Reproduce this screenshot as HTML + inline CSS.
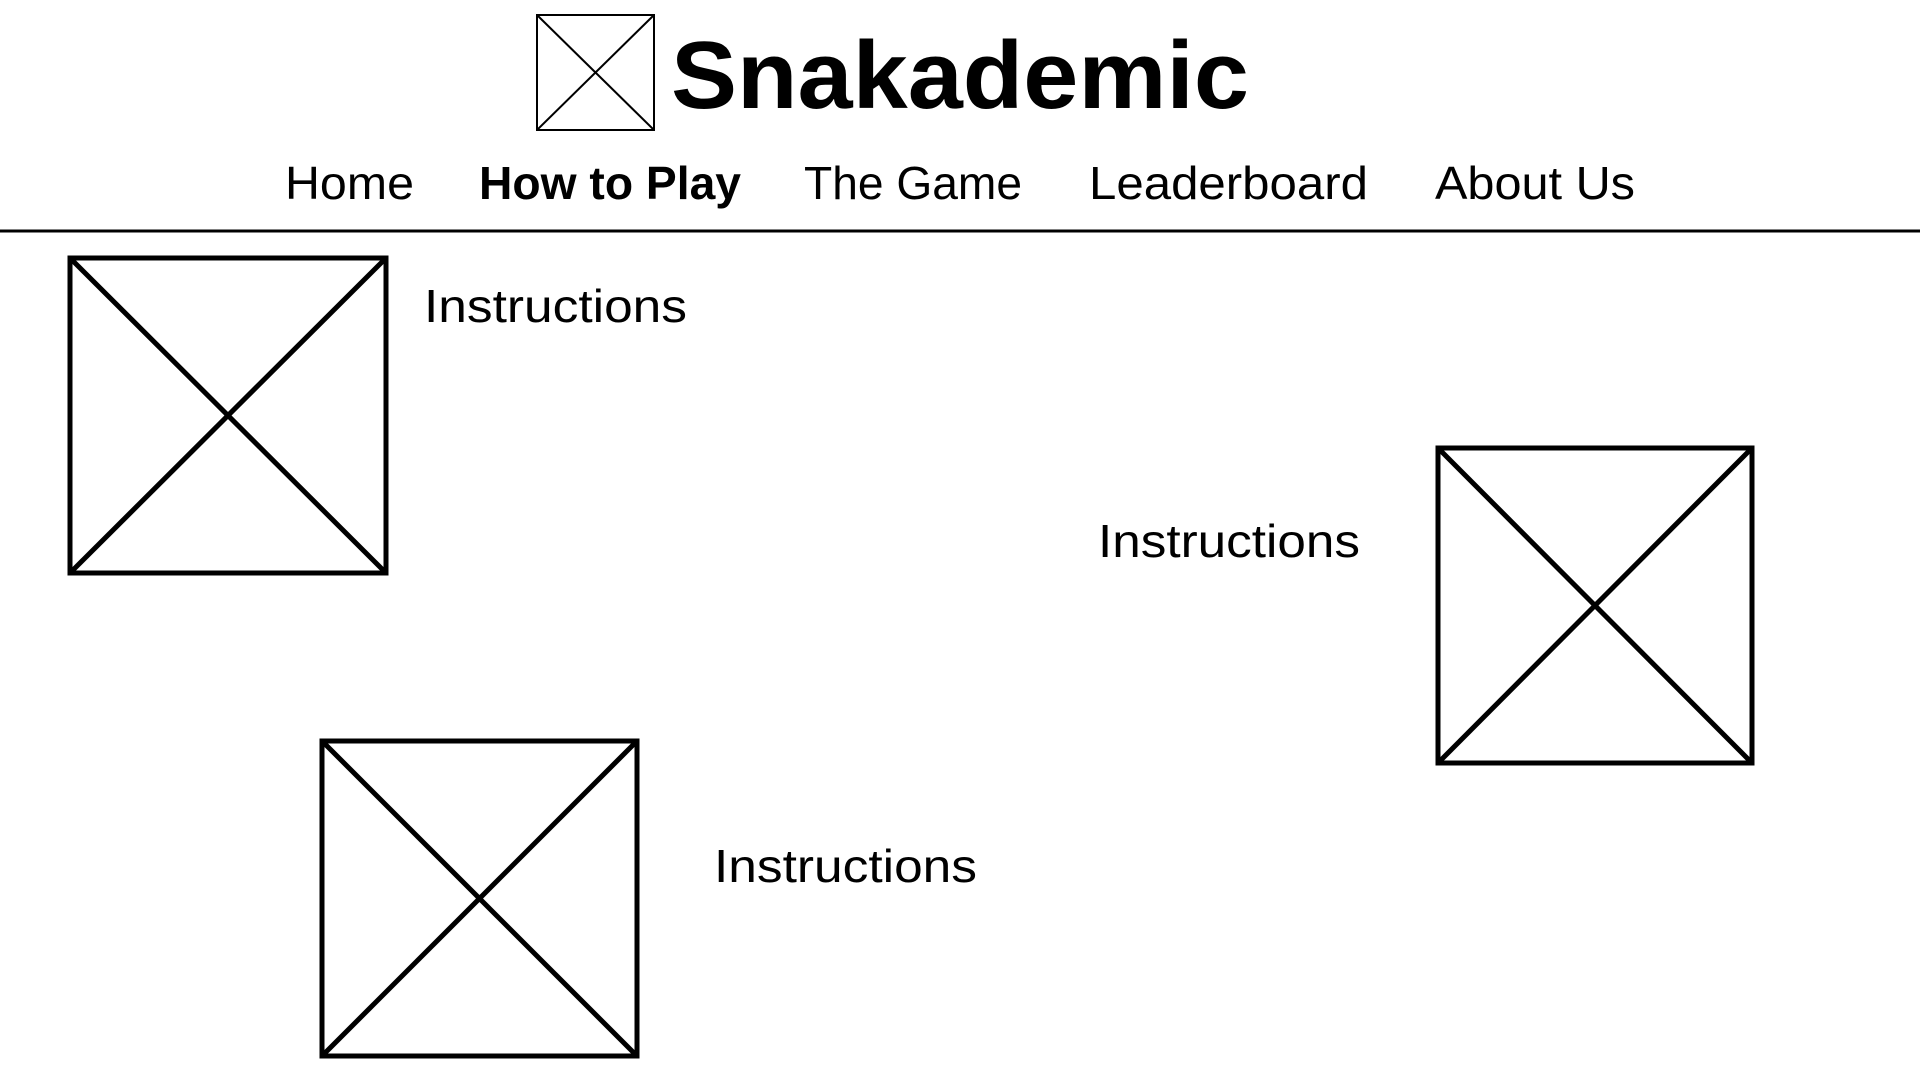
<!DOCTYPE html>
<html><head><meta charset="utf-8"><style>
html,body{margin:0;padding:0;background:#fff;width:1920px;height:1080px;overflow:hidden}
svg{display:block}
text{font-family:"Liberation Sans",sans-serif;fill:#000}
</style></head><body>
<svg width="1920" height="1080" viewBox="0 0 1920 1080">
<g fill="none" stroke="#000" stroke-width="2">
<rect x="537" y="15" width="117" height="115"/>
<line x1="537" y1="15" x2="654" y2="130"/><line x1="654" y1="15" x2="537" y2="130"/>
</g>
<text x="671" y="108" font-size="96" font-weight="bold" textLength="578" lengthAdjust="spacingAndGlyphs">Snakademic</text>
<g font-size="46">
<text x="285" y="199" textLength="129" lengthAdjust="spacingAndGlyphs">Home</text>
<text x="479" y="199" font-weight="bold" textLength="262" lengthAdjust="spacingAndGlyphs">How to Play</text>
<text x="804" y="199" textLength="218" lengthAdjust="spacingAndGlyphs">The Game</text>
<text x="1089" y="199" textLength="279" lengthAdjust="spacingAndGlyphs">Leaderboard</text>
<text x="1435" y="199" textLength="200" lengthAdjust="spacingAndGlyphs">About Us</text>
</g>
<line x1="0" y1="231" x2="1920" y2="231" stroke="#000" stroke-width="3"/>
<g fill="none" stroke="#000" stroke-width="5">
<rect x="70" y="258" width="316" height="315"/><line x1="70" y1="258" x2="386" y2="573"/><line x1="386" y1="258" x2="70" y2="573"/>
<rect x="1438" y="448" width="314" height="315"/><line x1="1438" y1="448" x2="1752" y2="763"/><line x1="1752" y1="448" x2="1438" y2="763"/>
<rect x="322" y="741" width="315" height="315"/><line x1="322" y1="741" x2="637" y2="1056"/><line x1="637" y1="741" x2="322" y2="1056"/>
</g>
<g font-size="46">
<text x="424" y="322" textLength="263" lengthAdjust="spacingAndGlyphs">Instructions</text>
<text x="1098" y="557" textLength="262" lengthAdjust="spacingAndGlyphs">Instructions</text>
<text x="714" y="882" textLength="263" lengthAdjust="spacingAndGlyphs">Instructions</text>
</g>
</svg>
</body></html>
